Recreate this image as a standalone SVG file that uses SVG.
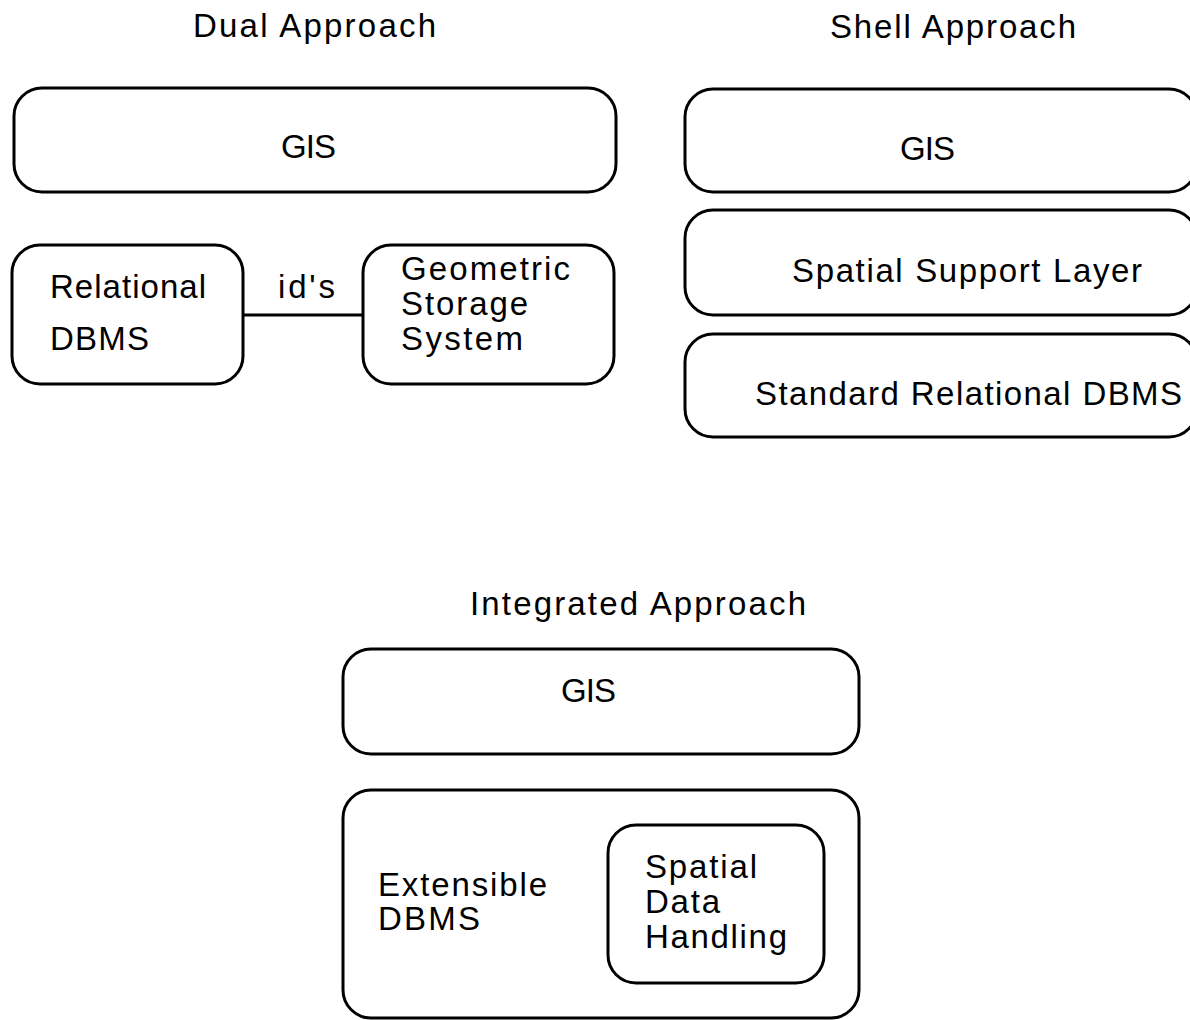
<svg xmlns="http://www.w3.org/2000/svg" width="1190" height="1020" viewBox="0 0 1190 1020">
<style>
.box{fill:#fff;stroke:#000;stroke-width:3}
.t{font-family:"Liberation Sans",Arial,sans-serif;font-size:33px;fill:#000}
.conn{stroke:#000;stroke-width:3;fill:none}
</style>
<rect width="1190" height="1020" fill="#fff"/>
<g id="titles">
<text class="t" x="193" y="37" textLength="243" lengthAdjust="spacing">Dual Approach</text>
<text class="t" x="830" y="38" textLength="246" lengthAdjust="spacing">Shell Approach</text>
<text class="t" x="470" y="615" textLength="336" lengthAdjust="spacing">Integrated Approach</text>
</g>
<g id="dual-gis">
<rect class="box" x="14" y="88" width="602" height="104" rx="28"/>
<text class="t" x="281" y="158" textLength="55" lengthAdjust="spacing">GIS</text>
</g>
<g id="relational-dbms">
<rect class="box" x="12" y="245" width="231" height="139" rx="28"/>
<text class="t" x="50" y="298" textLength="156" lengthAdjust="spacing">Relational</text>
<text class="t" x="50" y="350" textLength="99" lengthAdjust="spacing">DBMS</text>
</g>
<g id="geometric-storage">
<rect class="box" x="363" y="245" width="251" height="139" rx="28"/>
<text class="t" x="401" y="280" textLength="169" lengthAdjust="spacing">Geometric</text>
<text class="t" x="401" y="315" textLength="127" lengthAdjust="spacing">Storage</text>
<text class="t" x="401" y="350" textLength="122" lengthAdjust="spacing">System</text>
</g>
<g id="connectors">
<line class="conn" x1="243" y1="315" x2="363" y2="315"/>
<text class="t" x="278" y="298" textLength="57" lengthAdjust="spacing">id's</text>
</g>
<g id="shell-gis">
<rect class="box" x="685" y="89" width="512" height="103" rx="28"/>
<text class="t" x="900" y="160" textLength="55" lengthAdjust="spacing">GIS</text>
</g>
<g id="spatial-support-layer">
<rect class="box" x="685" y="210" width="512" height="105" rx="28"/>
<text class="t" x="792" y="282" textLength="350" lengthAdjust="spacing">Spatial Support Layer</text>
</g>
<g id="standard-relational-dbms">
<rect class="box" x="685" y="334" width="512" height="103" rx="28"/>
<text class="t" x="755" y="405" textLength="427" lengthAdjust="spacing">Standard Relational DBMS</text>
</g>
<g id="integrated-gis">
<rect class="box" x="343" y="649" width="516" height="105" rx="28"/>
<text class="t" x="561" y="702" textLength="55" lengthAdjust="spacing">GIS</text>
</g>
<g id="extensible-dbms">
<rect class="box" x="343" y="790" width="516" height="228" rx="28"/>
<text class="t" x="378" y="896" textLength="169" lengthAdjust="spacing">Extensible</text>
<text class="t" x="378" y="930" textLength="102" lengthAdjust="spacing">DBMS</text>
</g>
<g id="spatial-data-handling">
<rect class="box" x="608" y="825" width="216" height="158" rx="28"/>
<text class="t" x="645" y="878" textLength="112" lengthAdjust="spacing">Spatial</text>
<text class="t" x="645" y="913" textLength="75" lengthAdjust="spacing">Data</text>
<text class="t" x="645" y="948" textLength="142" lengthAdjust="spacing">Handling</text>
</g>
</svg>
